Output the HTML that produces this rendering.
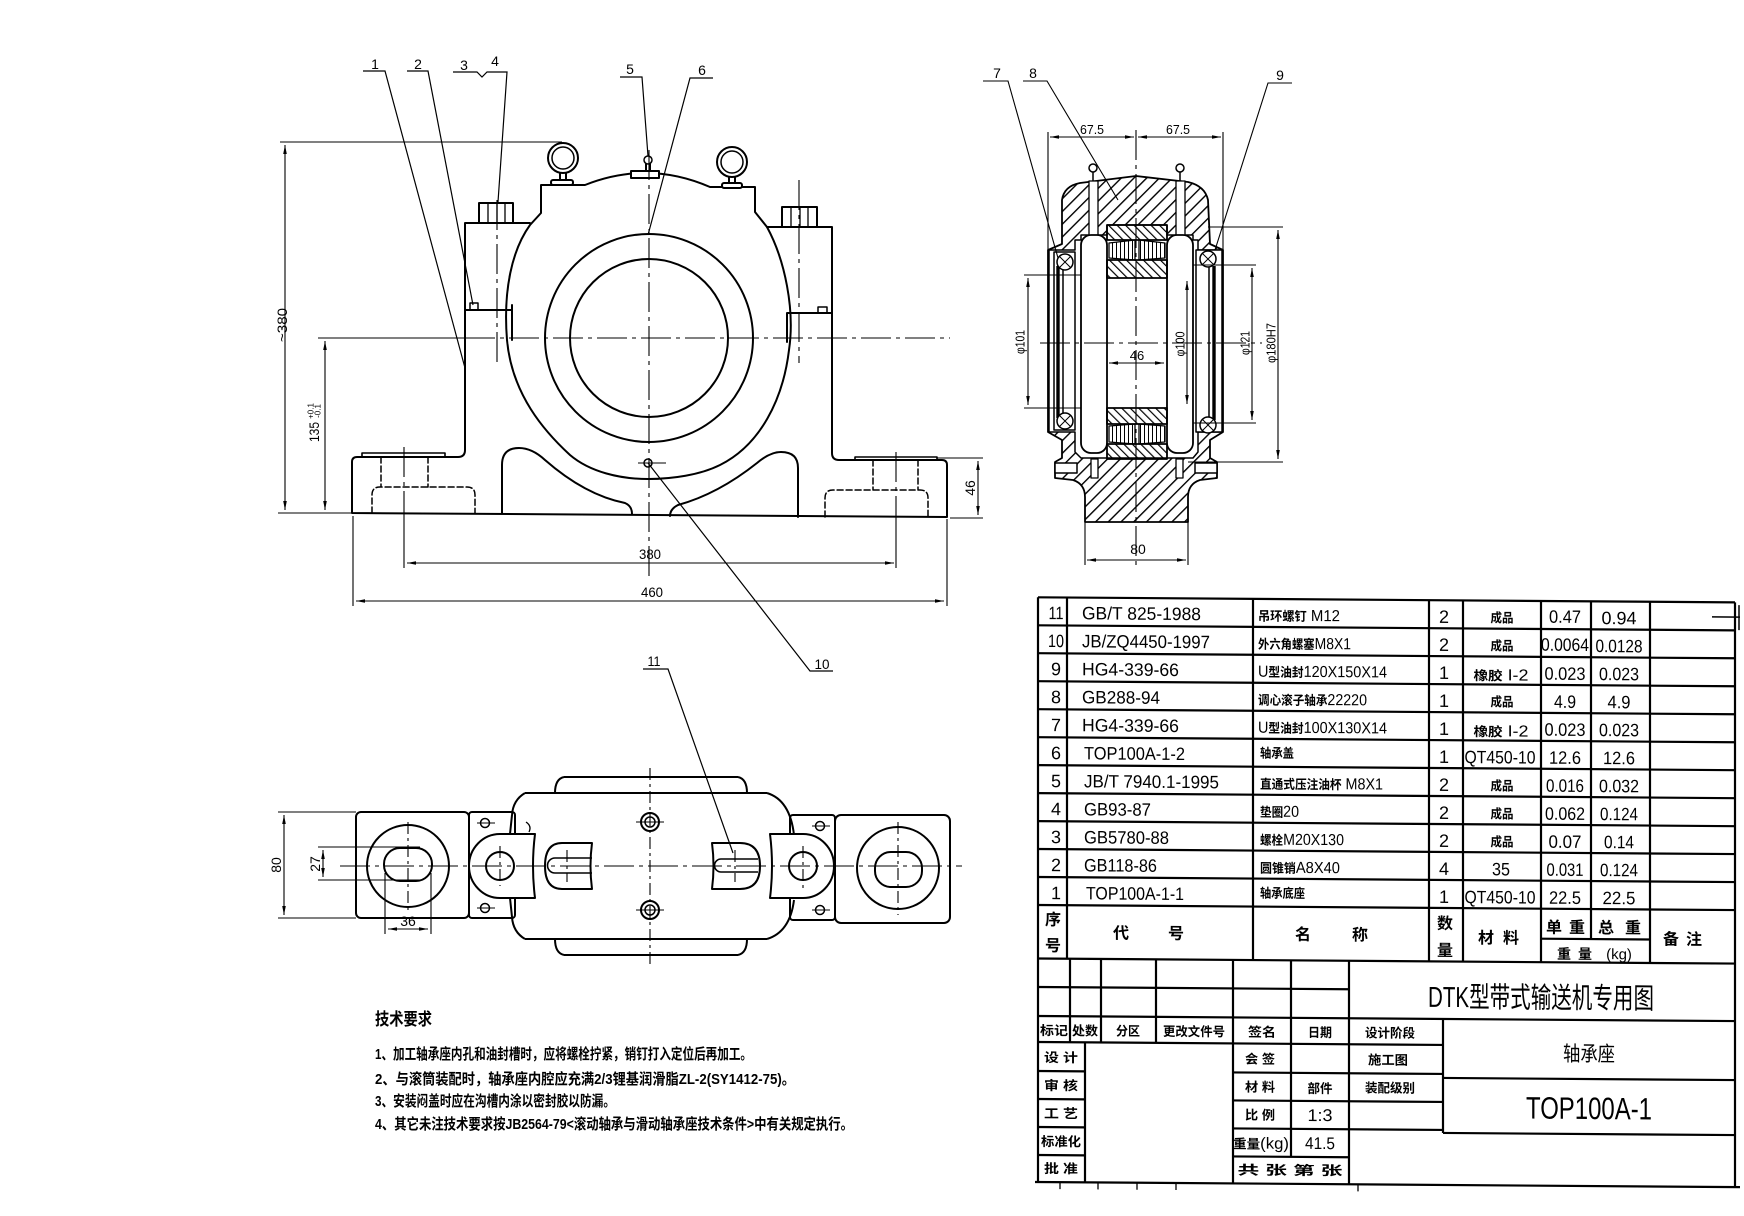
<!DOCTYPE html>
<html><head><meta charset="utf-8"><title>TOP100A-1 轴承座</title>
<style>
html,body{margin:0;padding:0;background:#fff;width:1744px;height:1216px;overflow:hidden}
svg{display:block}
text{font-family:"Liberation Sans","Noto Sans CJK SC",sans-serif;fill:#000;stroke:none}
.n{font-size:18px}
.z{font-size:13px;font-weight:bold}
.m{font-size:16px}
.h{font-size:16px;font-weight:bold}
.s{font-size:13px;font-weight:bold}
.l{font-size:14px}
.d{font-size:14px}
.t{font-size:15px;font-weight:bold}
</style></head><body>
<svg xmlns="http://www.w3.org/2000/svg" width="1744" height="1216" viewBox="0 0 1744 1216">
<defs>
<pattern id="h1" width="9" height="9" patternUnits="userSpaceOnUse" patternTransform="rotate(45)"><rect width="1.4" height="9" fill="#000"/></pattern>
<pattern id="h2" width="6" height="6" patternUnits="userSpaceOnUse" patternTransform="rotate(-45)"><rect width="1.2" height="6" fill="#000"/></pattern>
<pattern id="v" width="4" height="4" patternUnits="userSpaceOnUse"><rect width="1" height="4" fill="#000"/></pattern>
<marker id="ar" viewBox="0 0 10 4" refX="10" refY="2" markerWidth="9" markerHeight="3.6" markerUnits="userSpaceOnUse" orient="auto-start-reverse"><path d="M0,0 L10,2 L0,4 z" fill="#000"/></marker>
</defs>
<rect width="1744" height="1216" fill="#fff"/>

<!-- ================= FRONT VIEW ================= -->
<g fill="none" stroke="#000" stroke-width="2" stroke-linejoin="round" stroke-linecap="round">
<path d="M541,213 V185 H585 Q648,160 710,187 H755 V212 L767,227 C785,260 795,310 789,350 C783,400 760,445 720,465 C700,475 672,479 648,479 C620,479 590,472 570,455 C545,432 512,395 507,340 C503,290 512,250 530,225 Z"/>
<path d="M530,223 H465 V450 Q465,457 458,457 H357 Q352,457 352,462 V513 L947,517 V465 Q947,460 942,460 H839 Q832,460 832,453 V227 H767"/>
<rect x="362" y="453" width="83" height="4" stroke-width="1.6"/>
<rect x="855" y="457" width="82" height="3" stroke-width="1.6"/>
<path d="M465,310 H512 M512,305 V340 M787,313 H832 M787,313 V342"/>
<rect x="470" y="303" width="8" height="7" stroke-width="1.5"/>
<rect x="818" y="307" width="9" height="6" stroke-width="1.5"/>
<rect x="479" y="203" width="34" height="20" fill="#fff"/>
<path d="M488,203 V223 M497,203 V223 M505,203 V223" stroke-width="1.3"/>
<rect x="782" y="207" width="35" height="20" fill="#fff"/>
<path d="M791,207 V227 M800,207 V227 M808,207 V227" stroke-width="1.3"/>
<circle cx="563" cy="158" r="15"/>
<circle cx="563" cy="158" r="11" stroke-width="1.5"/>
<path d="M560,173 V181 M566,173 V181"/>
<rect x="551" y="180" width="22" height="5" rx="2" fill="#fff"/>
<circle cx="732" cy="162" r="15"/>
<circle cx="732" cy="162" r="11" stroke-width="1.5"/>
<path d="M729,177 V184 M735,177 V184"/>
<rect x="722" y="183" width="20" height="5" rx="2" fill="#fff"/>
<circle cx="648" cy="160" r="4" stroke-width="1.5"/>
<path d="M646,164 V172 M650,164 V172"/>
<rect x="631" y="171" width="28" height="7" fill="#fff"/>
<circle cx="649" cy="338" r="104"/>
<circle cx="649" cy="338" r="79"/>
<path d="M502,513 V465 Q502,448 519,448 Q532,448 545,460 Q585,495 625,503 Q632,506 632,514"/>
<path d="M798,517 V468 Q798,452 781,452 Q770,452 757,463 Q718,494 678,505 Q670,509 670,516"/>
<circle cx="648" cy="463" r="4" stroke-width="1.5"/>
<path d="M372,513 V495 Q372,487 380,487 H467 Q475,487 475,495 V513 M381,457 V487 M428,457 V487" stroke-width="1.5" stroke-dasharray="6 3"/>
<path d="M825,517 V498 Q825,490 833,490 H920 Q928,490 928,498 V517 M873,460 V490 M918,460 V490" stroke-width="1.5" stroke-dasharray="6 3"/>
</g>
<!-- centre lines front -->
<g fill="none" stroke="#000" stroke-width="1.1" stroke-dasharray="30 5 4 5">
<path d="M465,338 H950"/>
<path d="M649,150 V580"/>
<path d="M497,200 V362"/>
<path d="M799,180 V363"/>
<path d="M404,447 V513 M896,452 V517"/>
<path d="M638,463 H666"/>
</g>
<!-- leaders front -->
<g fill="none" stroke="#000" stroke-width="1.2">
<path d="M363,71 H385 L465,368"/>
<path d="M407,71 H428 L473,305"/>
<path d="M453,72 H477 L482,77 L487,72 H507 L498,202"/>
<path d="M620,77 H642 L648,156"/>
<path d="M713,78 H690 L648,235"/>
<path d="M648,463 L810,671 H833"/>
<path d="M643,669 H668 L733,853"/>
</g>
<g class="l" text-anchor="middle">
<text x="375" y="69">1</text>
<text x="418" y="69">2</text>
<text x="464" y="70">3</text>
<text x="495" y="66">4</text>
<text x="630" y="74">5</text>
<text x="702" y="75">6</text>
<text x="822" y="669" textLength="15" lengthAdjust="spacingAndGlyphs">10</text>
<text x="654" y="666" textLength="13" lengthAdjust="spacingAndGlyphs">11</text>
</g>
<!-- dims front -->
<g fill="none" stroke="#000" stroke-width="1.1">
<path d="M280,142 H562"/>
<path d="M285,145 V510" marker-start="url(#ar)" marker-end="url(#ar)"/>
<path d="M278,513 H352"/>
<path d="M318,338 H465"/>
<path d="M325,341 V510" marker-start="url(#ar)" marker-end="url(#ar)"/>
<path d="M937,458 H983 M950,518 H983"/>
<path d="M978,461 V515" marker-start="url(#ar)" marker-end="url(#ar)"/>
<path d="M407,563 H894" marker-start="url(#ar)" marker-end="url(#ar)"/>
<path d="M404,513 V568 M896,517 V568"/>
<path d="M353,516 V606 M947,519 V606"/>
<path d="M356,601 H944" marker-start="url(#ar)" marker-end="url(#ar)"/>
</g>
<g class="d" text-anchor="middle">
<text transform="translate(282,325) rotate(-90)" y="5" textLength="34" lengthAdjust="spacingAndGlyphs">~380</text>
<text transform="translate(314,432) rotate(-90)" y="5" textLength="20" lengthAdjust="spacingAndGlyphs">135</text>
<text transform="translate(314,411) rotate(-90)" y="-0.5" style="font-size:8px">+0.1</text>
<text transform="translate(314,411) rotate(-90)" y="6.5" style="font-size:8px">-0.1</text>
<text transform="translate(970,488) rotate(-90)" y="5">46</text>
<text x="650" y="559" textLength="22" lengthAdjust="spacingAndGlyphs">380</text>
<text x="652" y="597" textLength="22" lengthAdjust="spacingAndGlyphs">460</text>
</g>

<!-- ================= SIDE VIEW ================= -->
<g stroke="#000" stroke-width="1.8" stroke-linejoin="round">
<path fill="url(#h1)" d="M1048,250 L1062,244 L1062,200 Q1064,186 1080,183 L1136,176 L1188,182 Q1205,186 1208,200 L1210,244 L1223,250 L1223,432 L1210,440 L1210,458 L1217,462 L1217,478 L1200,480 Q1188,484 1188,497 L1188,522 L1085,522 L1085,497 Q1085,484 1073,480 L1055,478 L1055,462 L1062,458 L1062,440 L1048,432 Z"/>
<path fill="#fff" stroke-width="1.5" d="M1049,250 H1075 V240 H1081 V235 H1107 V225 H1167 V235 H1193 V240 H1198 V250 H1222 V432 H1198 V452 L1193,458 H1081 L1075,452 V432 H1049 Z"/>
<rect fill="#fff" x="1089" y="181" width="9" height="55" stroke-width="1.3"/>
<rect fill="#fff" x="1176" y="181" width="9" height="55" stroke-width="1.3"/>
<circle cx="1093" cy="168" r="4" fill="#fff" stroke-width="1.5"/>
<path d="M1093,172 V181 M1180,172 V181" stroke-width="1.5"/>
<circle cx="1180" cy="168" r="4" fill="#fff" stroke-width="1.5"/>
<rect x="1081" y="235" width="26" height="218" rx="10" fill="#fff"/>
<rect x="1167" y="235" width="26" height="218" rx="10" fill="#fff"/>
<rect x="1107" y="225" width="60" height="15" fill="url(#h2)"/>
<path fill="url(#v)" stroke-width="1.3" d="M1109,243 L1135,240 V260 L1109,258 Z M1139,240 L1165,243 V258 L1139,260 Z"/>
<rect x="1107" y="260" width="60" height="18" fill="url(#h2)"/>
<rect x="1107" y="408" width="60" height="16" fill="url(#h2)"/>
<path fill="url(#v)" stroke-width="1.3" d="M1109,426 L1135,424 V444 L1109,442 Z M1139,424 L1165,426 V442 L1139,444 Z"/>
<rect x="1107" y="444" width="60" height="15" fill="url(#h2)"/>
<rect x="1054" y="252" width="21" height="178" fill="#fff" stroke-width="1.5"/>
<path d="M1058,266 V418" stroke-width="3.4"/>
<path d="M1063,266 V418" stroke-width="1.5"/>
<circle cx="1065" cy="262" r="8" fill="#fff" stroke-width="1.5"/>
<path d="M1059,256 L1071,268 M1071,256 L1059,268" stroke-width="1"/>
<circle cx="1065" cy="421" r="8" fill="#fff" stroke-width="1.5"/>
<path d="M1059,415 L1071,427 M1071,415 L1059,427" stroke-width="1"/>
<rect x="1196" y="250" width="26" height="182" fill="#fff" stroke-width="1.5"/>
<path d="M1214,266 V420" stroke-width="3.4"/>
<path d="M1209,266 V420" stroke-width="1.5"/>
<circle cx="1208" cy="259" r="8" fill="#fff" stroke-width="1.5"/>
<path d="M1202,253 L1214,265 M1214,253 L1202,265" stroke-width="1"/>
<circle cx="1208" cy="425" r="8" fill="#fff" stroke-width="1.5"/>
<path d="M1202,419 L1214,431 M1214,419 L1202,431" stroke-width="1"/>
<rect x="1055" y="463" width="22" height="10" fill="#fff" stroke-width="1.5"/>
<rect x="1195" y="463" width="22" height="10" fill="#fff" stroke-width="1.5"/>
<rect x="1091" y="459" width="7" height="19" fill="#fff" stroke-width="1.3"/>
<rect x="1176" y="459" width="7" height="19" fill="#fff" stroke-width="1.3"/>
</g>
<g fill="none" stroke="#000" stroke-width="1.1">
<path d="M1136,130 V568 M1040,343 H1262" stroke-dasharray="30 5 4 5"/>
<path d="M1048,132 V250 M1223,132 V250"/>
<path d="M1050,137 H1134" marker-start="url(#ar)" marker-end="url(#ar)"/>
<path d="M1138,137 H1221" marker-start="url(#ar)" marker-end="url(#ar)"/>
<path d="M1024,275 H1081 M1024,408 H1081"/>
<path d="M1028,278 V405" marker-start="url(#ar)" marker-end="url(#ar)"/>
<path d="M1109,363 H1164" marker-start="url(#ar)" marker-end="url(#ar)"/>
<path d="M1187,281 V404" marker-start="url(#ar)" marker-end="url(#ar)"/>
<path d="M1193,265 H1256 M1193,423 H1256"/>
<path d="M1252,268 V420" marker-start="url(#ar)" marker-end="url(#ar)"/>
<path d="M1208,227 H1283 M1188,462 H1283"/>
<path d="M1278,230 V459" marker-start="url(#ar)" marker-end="url(#ar)"/>
<path d="M1085,522 V565 M1188,522 V565"/>
<path d="M1087,560 H1186" marker-start="url(#ar)" marker-end="url(#ar)"/>
<path d="M983,81 H1008 L1058,258"/>
<path d="M1023,81 H1047 L1118,200"/>
<path d="M1292,83 H1268 L1215,250"/>
</g>
<g class="d" text-anchor="middle">
<text x="997" y="78" class="l">7</text>
<text x="1033" y="78" class="l">8</text>
<text x="1280" y="80" class="l">9</text>
<text x="1092" y="134" textLength="24" lengthAdjust="spacingAndGlyphs" style="font-size:13px">67.5</text>
<text x="1178" y="134" textLength="24" lengthAdjust="spacingAndGlyphs" style="font-size:13px">67.5</text>
<text transform="translate(1020,342) rotate(-90)" y="4.5" textLength="24" lengthAdjust="spacingAndGlyphs" style="font-size:13px">φ101</text>
<text x="1137" y="360" style="font-size:13px">46</text>
<text transform="translate(1180,344) rotate(-90)" y="4.5" textLength="25" lengthAdjust="spacingAndGlyphs" style="font-size:13px">φ100</text>
<text transform="translate(1245,343) rotate(-90)" y="4.5" textLength="24" lengthAdjust="spacingAndGlyphs" style="font-size:13px">φ121</text>
<text transform="translate(1271,343) rotate(-90)" y="4.5" textLength="40" lengthAdjust="spacingAndGlyphs" style="font-size:13px">φ180H7</text>
<text x="1138" y="554">80</text>
</g>

<!-- ================= PLAN VIEW ================= -->
<g fill="none" stroke="#000" stroke-width="2" stroke-linejoin="round">
<rect x="356" y="812" width="113" height="106" rx="5"/>
<rect x="469" y="812" width="46" height="106" rx="3"/>
<rect x="790" y="815" width="45" height="105" rx="3"/>
<rect x="835" y="815" width="115" height="108" rx="6"/>
<path d="M564,777 H738 M564,955 H738 M525,793 H767 M525,939 H767"/>
<path d="M564,777 Q555,779 555,793 M738,777 Q747,779 747,793 M564,955 Q555,953 555,939 M738,955 Q747,953 747,939"/>
<path d="M525,793 Q513,800 512,815 L510,834 M525,939 Q513,932 512,917 L510,898 M767,793 Q790,800 794,835 M767,939 Q790,932 794,900"/>
<path d="M535,834 H500 A31,32 0 0 0 500,898 H535 Q531,866 535,834 Z" fill="#fff"/>
<path d="M770,834 H803 A31,32 0 0 1 803,898 H770 Q774,866 770,834 Z" fill="#fff"/>
<circle cx="500" cy="866" r="14"/>
<circle cx="803" cy="866" r="14"/>
<circle cx="408" cy="866" r="41"/>
<rect x="384" y="848" width="48" height="33" rx="16"/>
<circle cx="898" cy="868" r="41"/>
<rect x="875" y="852" width="47" height="35" rx="16"/>
<path d="M592,843 H562 Q545,843 545,866 Q545,889 562,889 H592 Q589,866 592,843 Z"/>
<path d="M592,858 H555 A7.5,7.5 0 0 0 555,873 H592" stroke-width="1.6"/>
<path d="M712,843 H740 Q760,843 760,866 Q760,889 740,889 H712 Q715,866 712,843 Z"/>
<path d="M758,859 H721 A6.5,6.5 0 0 0 721,872 H758" stroke-width="1.6"/>
<circle cx="650" cy="822" r="9"/><circle cx="650" cy="822" r="5" stroke-width="1.5"/>
<circle cx="650" cy="910" r="9"/><circle cx="650" cy="910" r="5" stroke-width="1.5"/>
<circle cx="485" cy="823" r="4.5" stroke-width="1.5"/>
<circle cx="485" cy="908" r="4.5" stroke-width="1.5"/>
<circle cx="820" cy="826" r="4.5" stroke-width="1.5"/>
<circle cx="820" cy="910" r="4.5" stroke-width="1.5"/>
<path d="M526,822 Q532,826 529,832" stroke-width="1.3"/>
</g>
<g fill="none" stroke="#000" stroke-width="1.1">
<path d="M340,866 H962" stroke-dasharray="30 5 4 5"/>
<path d="M408,822 V912 M650,768 V968 M898,822 V915 M500,846 V886 M803,846 V888 M567,850 V882 M735,850 V882" stroke-dasharray="12 4 3 4"/>
<path d="M636,822 H664 M636,910 H664 M477,823 H495 M477,908 H495 M812,826 H830 M812,910 H830"/>
<path d="M278,812 H356 M278,918 H356"/>
<path d="M284,815 V915" marker-start="url(#ar)" marker-end="url(#ar)"/>
<path d="M318,847 H420 M318,880 H420"/>
<path d="M323,850 V877" marker-start="url(#ar)" marker-end="url(#ar)"/>
<path d="M385,873 V934 M431,873 V934"/>
<path d="M388,929 H428" marker-start="url(#ar)" marker-end="url(#ar)"/>
</g>
<g class="d" text-anchor="middle">
<text transform="translate(276,865) rotate(-90)" y="5">80</text>
<text transform="translate(315,864) rotate(-90)" y="5">27</text>
<text x="408" y="926">36</text>
</g>

<!-- ================= TECH REQUIREMENTS ================= -->
<g>
<text x="375" y="1025" style="font-size:17px;font-weight:bold" textLength="57" lengthAdjust="spacingAndGlyphs">技术要求</text>
<text x="375" y="1059" class="t" textLength="377" lengthAdjust="spacingAndGlyphs">1、加工轴承座内孔和油封槽时，应将螺栓拧紧，销钉打入定位后再加工。</text>
<text x="375" y="1084" class="t" textLength="420" lengthAdjust="spacingAndGlyphs">2、与滚筒装配时，轴承座内腔应充满2/3锂基润滑脂ZL-2(SY1412-75)。</text>
<text x="375" y="1106" class="t" textLength="240" lengthAdjust="spacingAndGlyphs">3、安装闷盖时应在沟槽内涂以密封胶以防漏。</text>
<text x="375" y="1129" class="t" textLength="478" lengthAdjust="spacingAndGlyphs">4、其它未注技术要求按JB2564-79&lt;滚动轴承与滑动轴承座技术条件&gt;中有关规定执行。</text>
</g>

<!-- ================= TABLE + TITLE BLOCK ================= -->
<g transform="matrix(1 0.0073 0 1 0 -7.58)">
<g fill="none" stroke="#000" stroke-width="2.2">
<path d="M1038,597.3 H1735 M1038,625.3 H1735 M1038,653.2 H1735 M1038,681.2 H1735 M1038,709.2 H1735 M1038,737.2 H1735 M1038,765.1 H1735 M1038,793.1 H1735 M1038,821.1 H1735 M1038,849 H1735 M1038,877 H1735 M1038,905 H1735 M1038,958.5 H1735"/>
<path d="M1541,935 H1650"/>
<path d="M1038,597.3 V1182 M1067,597.3 V958.5 M1253,597.3 V958.5 M1429,597.3 V958.5 M1463,597.3 V958.5 M1541,597.3 V958.5 M1591,597.3 V935 M1650,597.3 V958.5 M1735,597.3 V1182"/>
<path d="M1070,958.5 V1042 M1101,958.5 V1042 M1156,958.5 V1042 M1085,1042 V1182 M1233,958.5 V1182 M1291,958.5 V1155 M1349,958.5 V1182 M1443,1016 V1130"/>
<path d="M1038,987 H1349 M1038,1016 H1735 M1038,1042 H1443 M1038,1071 H1085 M1233,1071 H1443 M1443,1075 H1735 M1038,1099 H1085 M1233,1099 H1443 M1038,1127 H1085 M1233,1127 H1443 M1443,1130 H1735 M1038,1155 H1085 M1233,1155 H1349 M1035,1182 H1740"/>
<path d="M1712,612 H1740 M1739,600 V625" stroke-width="1.5"/>
<path d="M1060,1182 V1189 M1098,1182 V1189 M1137,1182 V1189 M1176,1182 V1189 M1358,1182 V1189" stroke-width="1.3"/>
</g>
<!-- rows -->
<g>
<text class="n" x="1056" y="619" text-anchor="middle" textLength="15" lengthAdjust="spacingAndGlyphs">11</text>
<text class="n" x="1082" y="619" textLength="119" lengthAdjust="spacingAndGlyphs">GB/T 825-1988</text>
<text class="m" x="1258" y="619" textLength="82" lengthAdjust="spacingAndGlyphs"><tspan font-weight="bold" font-size="13">吊环螺钉</tspan> M12</text>
<text class="n" x="1444" y="620" text-anchor="middle">2</text>
<text class="z" x="1502" y="619" text-anchor="middle" textLength="23" lengthAdjust="spacingAndGlyphs">成品</text>
<text class="n" x="1565" y="619" text-anchor="middle" textLength="32" lengthAdjust="spacingAndGlyphs">0.47</text>
<text class="n" x="1619" y="620" text-anchor="middle" textLength="35" lengthAdjust="spacingAndGlyphs">0.94</text>

<text class="n" x="1056" y="647" text-anchor="middle" textLength="16" lengthAdjust="spacingAndGlyphs">10</text>
<text class="n" x="1082" y="647" textLength="128" lengthAdjust="spacingAndGlyphs">JB/ZQ4450-1997</text>
<text class="m" x="1258" y="647" textLength="93" lengthAdjust="spacingAndGlyphs"><tspan font-weight="bold" font-size="13">外六角螺塞</tspan>M8X1</text>
<text class="n" x="1444" y="648" text-anchor="middle">2</text>
<text class="z" x="1502" y="647" text-anchor="middle" textLength="23" lengthAdjust="spacingAndGlyphs">成品</text>
<text class="n" x="1565" y="647" text-anchor="middle" textLength="48" lengthAdjust="spacingAndGlyphs">0.0064</text>
<text class="n" x="1619" y="648" text-anchor="middle" textLength="47" lengthAdjust="spacingAndGlyphs">0.0128</text>

<text class="n" x="1056" y="675" text-anchor="middle">9</text>
<text class="n" x="1082" y="675" textLength="97" lengthAdjust="spacingAndGlyphs">HG4-339-66</text>
<text class="m" x="1258" y="675" textLength="129" lengthAdjust="spacingAndGlyphs">U<tspan font-weight="bold" font-size="13">型油封</tspan>120X150X14</text>
<text class="n" x="1444" y="676" text-anchor="middle">1</text>
<text class="m" x="1501" y="677" text-anchor="middle" textLength="55" lengthAdjust="spacingAndGlyphs"><tspan font-weight="bold" font-size="13">橡胶</tspan> I-2</text>
<text class="n" x="1565" y="676" text-anchor="middle" textLength="41" lengthAdjust="spacingAndGlyphs">0.023</text>
<text class="n" x="1619" y="676" text-anchor="middle" textLength="40" lengthAdjust="spacingAndGlyphs">0.023</text>

<text class="n" x="1056" y="703" text-anchor="middle">8</text>
<text class="n" x="1082" y="703" textLength="78" lengthAdjust="spacingAndGlyphs">GB288-94</text>
<text class="m" x="1258" y="703" textLength="109" lengthAdjust="spacingAndGlyphs"><tspan font-weight="bold" font-size="13">调心滚子轴承</tspan>22220</text>
<text class="n" x="1444" y="704" text-anchor="middle">1</text>
<text class="z" x="1502" y="703" text-anchor="middle" textLength="23" lengthAdjust="spacingAndGlyphs">成品</text>
<text class="n" x="1565" y="704" text-anchor="middle" textLength="22" lengthAdjust="spacingAndGlyphs">4.9</text>
<text class="n" x="1619" y="704" text-anchor="middle" textLength="23" lengthAdjust="spacingAndGlyphs">4.9</text>

<text class="n" x="1056" y="731" text-anchor="middle">7</text>
<text class="n" x="1082" y="731" textLength="97" lengthAdjust="spacingAndGlyphs">HG4-339-66</text>
<text class="m" x="1258" y="731" textLength="129" lengthAdjust="spacingAndGlyphs">U<tspan font-weight="bold" font-size="13">型油封</tspan>100X130X14</text>
<text class="n" x="1444" y="732" text-anchor="middle">1</text>
<text class="m" x="1501" y="733" text-anchor="middle" textLength="55" lengthAdjust="spacingAndGlyphs"><tspan font-weight="bold" font-size="13">橡胶</tspan> I-2</text>
<text class="n" x="1565" y="732" text-anchor="middle" textLength="41" lengthAdjust="spacingAndGlyphs">0.023</text>
<text class="n" x="1619" y="732" text-anchor="middle" textLength="40" lengthAdjust="spacingAndGlyphs">0.023</text>

<text class="n" x="1056" y="759" text-anchor="middle">6</text>
<text class="n" x="1084" y="759" textLength="101" lengthAdjust="spacingAndGlyphs">TOP100A-1-2</text>
<text class="z" x="1260" y="756" textLength="34" lengthAdjust="spacingAndGlyphs">轴承盖</text>
<text class="n" x="1444" y="760" text-anchor="middle">1</text>
<text class="n" x="1500" y="760" text-anchor="middle" textLength="71" lengthAdjust="spacingAndGlyphs">QT450-10</text>
<text class="n" x="1565" y="760" text-anchor="middle" textLength="32" lengthAdjust="spacingAndGlyphs">12.6</text>
<text class="n" x="1619" y="760" text-anchor="middle" textLength="32" lengthAdjust="spacingAndGlyphs">12.6</text>

<text class="n" x="1056" y="787" text-anchor="middle">5</text>
<text class="n" x="1084" y="787" textLength="135" lengthAdjust="spacingAndGlyphs">JB/T 7940.1-1995</text>
<text class="m" x="1260" y="787" textLength="123" lengthAdjust="spacingAndGlyphs"><tspan font-weight="bold" font-size="13">直通式压注油杯</tspan> M8X1</text>
<text class="n" x="1444" y="788" text-anchor="middle">2</text>
<text class="z" x="1502" y="787" text-anchor="middle" textLength="23" lengthAdjust="spacingAndGlyphs">成品</text>
<text class="n" x="1565" y="788" text-anchor="middle" textLength="38" lengthAdjust="spacingAndGlyphs">0.016</text>
<text class="n" x="1619" y="788" text-anchor="middle" textLength="40" lengthAdjust="spacingAndGlyphs">0.032</text>

<text class="n" x="1056" y="815" text-anchor="middle">4</text>
<text class="n" x="1084" y="815" textLength="67" lengthAdjust="spacingAndGlyphs">GB93-87</text>
<text class="m" x="1260" y="815" textLength="39" lengthAdjust="spacingAndGlyphs"><tspan font-weight="bold" font-size="13">垫圈</tspan>20</text>
<text class="n" x="1444" y="816" text-anchor="middle">2</text>
<text class="z" x="1502" y="815" text-anchor="middle" textLength="23" lengthAdjust="spacingAndGlyphs">成品</text>
<text class="n" x="1565" y="816" text-anchor="middle" textLength="40" lengthAdjust="spacingAndGlyphs">0.062</text>
<text class="n" x="1619" y="816" text-anchor="middle" textLength="38" lengthAdjust="spacingAndGlyphs">0.124</text>

<text class="n" x="1056" y="843" text-anchor="middle">3</text>
<text class="n" x="1084" y="843" textLength="85" lengthAdjust="spacingAndGlyphs">GB5780-88</text>
<text class="m" x="1260" y="843" textLength="84" lengthAdjust="spacingAndGlyphs"><tspan font-weight="bold" font-size="13">螺栓</tspan>M20X130</text>
<text class="n" x="1444" y="844" text-anchor="middle">2</text>
<text class="z" x="1502" y="843" text-anchor="middle" textLength="23" lengthAdjust="spacingAndGlyphs">成品</text>
<text class="n" x="1565" y="844" text-anchor="middle" textLength="33" lengthAdjust="spacingAndGlyphs">0.07</text>
<text class="n" x="1619" y="844" text-anchor="middle" textLength="30" lengthAdjust="spacingAndGlyphs">0.14</text>

<text class="n" x="1056" y="871" text-anchor="middle">2</text>
<text class="n" x="1084" y="871" textLength="73" lengthAdjust="spacingAndGlyphs">GB118-86</text>
<text class="m" x="1260" y="871" textLength="80" lengthAdjust="spacingAndGlyphs"><tspan font-weight="bold" font-size="13">圆锥销</tspan>A8X40</text>
<text class="n" x="1444" y="872" text-anchor="middle">4</text>
<text class="n" x="1501" y="872" text-anchor="middle" textLength="18" lengthAdjust="spacingAndGlyphs">35</text>
<text class="n" x="1565" y="872" text-anchor="middle" textLength="37" lengthAdjust="spacingAndGlyphs">0.031</text>
<text class="n" x="1619" y="872" text-anchor="middle" textLength="38" lengthAdjust="spacingAndGlyphs">0.124</text>

<text class="n" x="1056" y="899" text-anchor="middle">1</text>
<text class="n" x="1086" y="899" textLength="98" lengthAdjust="spacingAndGlyphs">TOP100A-1-1</text>
<text class="z" x="1260" y="896" textLength="45" lengthAdjust="spacingAndGlyphs">轴承底座</text>
<text class="n" x="1444" y="900" text-anchor="middle">1</text>
<text class="n" x="1500" y="900" text-anchor="middle" textLength="71" lengthAdjust="spacingAndGlyphs">QT450-10</text>
<text class="n" x="1565" y="900" text-anchor="middle" textLength="32" lengthAdjust="spacingAndGlyphs">22.5</text>
<text class="n" x="1619" y="900" text-anchor="middle" textLength="33" lengthAdjust="spacingAndGlyphs">22.5</text>
</g>
<!-- header -->
<g class="h" text-anchor="middle">
<text x="1053" y="925">序</text><text x="1053" y="951">号</text>
<text x="1121" y="938">代</text><text x="1176" y="938">号</text>
<text x="1303" y="938">名</text><text x="1360" y="938">称</text>
<text x="1445" y="926">数</text><text x="1445" y="953">量</text>
<text x="1486" y="940">材</text><text x="1511" y="940">料</text>
<text x="1554" y="929">单</text><text x="1577" y="929">重</text>
<text x="1606" y="929">总</text><text x="1633" y="929">重</text>
<text x="1564" y="955" style="font-size:14px">重</text><text x="1585" y="955" style="font-size:14px">量</text>
<text x="1619" y="955" style="font-size:15px;font-weight:normal">(kg)</text>
<text x="1671" y="940">备</text><text x="1694" y="940">注</text>
</g>
<!-- title block texts -->
<g class="s" text-anchor="middle">
<text x="1054" y="1035" textLength="28" lengthAdjust="spacingAndGlyphs">标记</text>
<text x="1085" y="1035" textLength="26" lengthAdjust="spacingAndGlyphs">处数</text>
<text x="1128" y="1035" textLength="24" lengthAdjust="spacingAndGlyphs">分区</text>
<text x="1194" y="1035" textLength="62" lengthAdjust="spacingAndGlyphs">更改文件号</text>
<text x="1262" y="1035" textLength="28" lengthAdjust="spacingAndGlyphs">签名</text>
<text x="1320" y="1035" textLength="24" lengthAdjust="spacingAndGlyphs">日期</text>
<text x="1390" y="1035" textLength="50" lengthAdjust="spacingAndGlyphs">设计阶段</text>
<text x="1061" y="1062" textLength="34" lengthAdjust="spacingAndGlyphs">设 计</text>
<text x="1260" y="1062" textLength="30" lengthAdjust="spacingAndGlyphs">会 签</text>
<text x="1388" y="1062" textLength="40" lengthAdjust="spacingAndGlyphs">施工图</text>
<text x="1061" y="1090" textLength="34" lengthAdjust="spacingAndGlyphs">审 核</text>
<text x="1260" y="1090" textLength="30" lengthAdjust="spacingAndGlyphs">材 料</text>
<text x="1320" y="1091" textLength="25" lengthAdjust="spacingAndGlyphs">部件</text>
<text x="1390" y="1090" textLength="50" lengthAdjust="spacingAndGlyphs">装配级别</text>
<text x="1061" y="1118" textLength="34" lengthAdjust="spacingAndGlyphs">工 艺</text>
<text x="1260" y="1118" textLength="30" lengthAdjust="spacingAndGlyphs">比 例</text>
<text x="1061" y="1146" textLength="40" lengthAdjust="spacingAndGlyphs">标准化</text>
<text x="1061" y="1173" textLength="34" lengthAdjust="spacingAndGlyphs">批 准</text>
<text x="1290" y="1173" textLength="105" lengthAdjust="spacingAndGlyphs">共    张 第    张</text>
</g>
<text x="1261" y="1147" text-anchor="middle" textLength="56" lengthAdjust="spacingAndGlyphs" style="font-size:16px"><tspan font-weight="bold" font-size="13">重量</tspan>(kg)</text>
<text x="1320" y="1119" text-anchor="middle" textLength="25" lengthAdjust="spacingAndGlyphs" style="font-size:17px">1:3</text>
<text x="1320" y="1147" text-anchor="middle" textLength="30" lengthAdjust="spacingAndGlyphs" style="font-size:17px">41.5</text>
<text x="1428" y="1004" textLength="226" lengthAdjust="spacingAndGlyphs" style="font-size:29px">DTK型带式输送机专用图</text>
<text x="1563" y="1057" textLength="52" lengthAdjust="spacingAndGlyphs" style="font-size:21px">轴承座</text>
<text x="1526" y="1115" textLength="126" lengthAdjust="spacingAndGlyphs" style="font-size:31px">TOP100A-1</text>
</g>
</svg>
</body></html>
